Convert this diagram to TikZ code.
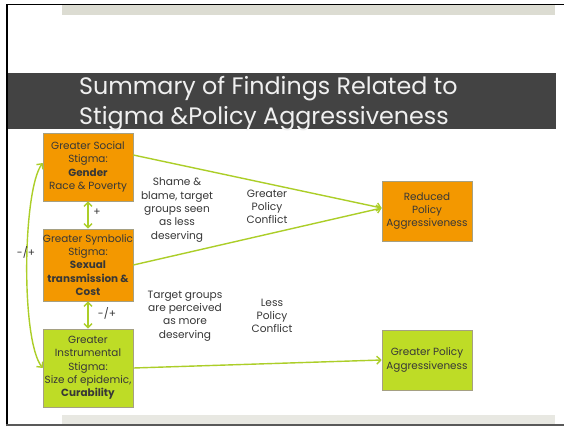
\documentclass[tikz,border=0pt]{standalone}
\usepackage{fontspec}
\setmainfont{Poppins}
\usetikzlibrary{arrows.meta}
\definecolor{orangebox}{RGB}{243,152,0}
\definecolor{limebox}{RGB}{190,220,38}
\definecolor{boxedge}{RGB}{165,160,130}
\definecolor{linkgreen}{RGB}{172,206,40}
\definecolor{titleband}{RGB}{67,67,67}
\definecolor{titletext}{RGB}{240,240,240}
\definecolor{bodytext}{RGB}{55,55,55}
\definecolor{topband}{RGB}{220,220,210}
\definecolor{bottomband}{RGB}{232,232,226}
% a line that may run past the box edges, centred on it
\newcommand{\wideline}[1]{\makebox[80pt]{#1}}
\tikzset{
  stigmabox/.style={draw=boxedge, line width=0.6pt, inner sep=0pt, align=center,
    text=bodytext, font=\fontsize{10.4}{13.3}\selectfont},
  link/.style={draw=linkgreen, line width=1.4pt,
    -{Straight Barb[length=4pt,width=8pt]}},
  twoway/.style={draw=linkgreen, line width=1.4pt,
    {Straight Barb[length=4pt,width=8pt]}-{Straight Barb[length=4pt,width=8pt]}},
  note/.style={align=center, text=bodytext, font=\fontsize{10.6}{13.3}\selectfont},
}
\begin{document}
\begin{tikzpicture}[x=1pt,y=-1pt]
\useasboundingbox (0,0) rectangle (564,426);
\fill[white] (0,0) rectangle (564,426);
% slide frame and bands
\fill[topband] (62,5) rectangle (555,15);
\fill[bottomband] (62,415) rectangle (555,424);
\fill[titleband] (7,73) rectangle (556,129);
\draw[black, line width=1.6pt] (6.8,426) -- (6.8,4.5) -- (564,4.5);
\draw[black!65, line width=1.6pt] (6,425.2) -- (564,425.2);
% title
\node[anchor=west, text=titletext, align=left, inner sep=0pt,
  font=\fontsize{23.8}{30}\selectfont] (title) at (79,104)
  {Summary of Findings Related to\\Stigma \&Policy Aggressiveness};
% stigma boxes
\node[stigmabox, fill=orangebox, minimum width=90pt, minimum height=68pt] (social) at (88,167)
  {Greater Social\\Stigma:\\\textbf{Gender}\\\wideline{Race \& Poverty}};
\node[stigmabox, fill=orangebox, minimum width=90pt, minimum height=72pt] (symbolic) at (88,265)
  {\wideline{Greater Symbolic}\\Stigma:\\\textbf{Sexual}\\\wideline{\textbf{transmission \&}}\\\textbf{Cost}};
\node[stigmabox, fill=limebox, minimum width=90pt, minimum height=78pt] (instrumental) at (88,368)
  {Greater\\Instrumental\\Stigma:\\\wideline{Size of epidemic,}\\\textbf{Curability}};
% outcome boxes
\node[stigmabox, fill=orangebox, minimum width=90pt, minimum height=60pt] (reduced) at (427,211)
  {Reduced\\Policy\\\wideline{Aggressiveness}};
\node[stigmabox, fill=limebox, minimum width=90pt, minimum height=60pt] (greater) at (427,360)
  {Greater Policy\\\wideline{Aggressiveness}};
% connectors
\draw[link] ([yshift=12pt]social.east) -- ([yshift=3pt]reduced.west);
\draw[link] (symbolic.east) -- ([yshift=3pt]reduced.west);
\draw[link] (instrumental.east) -- (greater.west);
\draw[twoway] (social.south) -- (symbolic.north);
\draw[twoway] (symbolic.south) -- (instrumental.north);
\draw[twoway] ([yshift=4pt]social.west) .. controls +(-20,27) and +(-22,-28) .. (instrumental.west);
% labels
\node[note] (plus) at (97,212) {+};
\node[note] (mixedlow) at (107,313) {-/+};
\node[note] (mixedside) at (26,252) {-/+};
\node[note] (shame) at (177,210) {Shame \&\\blame, target\\groups seen\\as less\\deserving};
\node[note] (conflicthigh) at (267,207) {Greater\\Policy\\Conflict};
\node[note] (deserving) at (185,316) {Target groups\\are perceived\\as more\\deserving};
\node[note] (conflictlow) at (272,316) {Less\\Policy\\Conflict};
\end{tikzpicture}
\end{document}
